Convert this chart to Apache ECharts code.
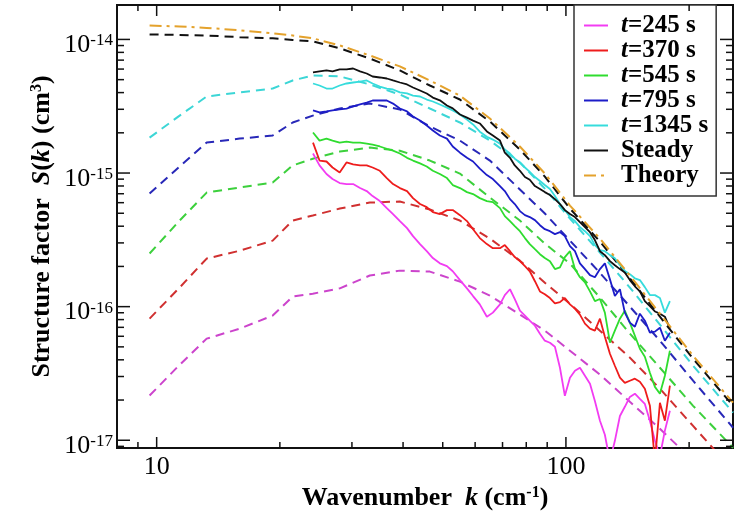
<!DOCTYPE html>
<html>
<head>
<meta charset="utf-8">
<script src="https://cdn.jsdelivr.net/npm/echarts@6/dist/echarts.min.js"></script>
<style>
  html, body { margin: 0; padding: 0; background: #fff; }
  #chart { width: 741px; height: 514px; }
</style>
</head>
<body>
<div id="chart"></div>
<script>
// wavenumber of the model (dashed) curves, cm^-1
const kModel = [9.61, 11.38, 13.25, 15.95, 19.21, 21.5, 24.07, 28.03, 33.17, 39.28, 46.51, 55.06, 65.2, 77.18, 88.83, 102.3, 121.1, 143.3, 169.7, 204.5, 256.1];

const theory = [1.27e-14, 1.25e-14, 1.22e-14, 1.17e-14, 1.11e-14, 1.07e-14, 1.02e-14, 9.01e-15, 7.59e-15, 6.28e-15, 4.93e-15, 3.80e-15, 2.56e-15, 1.58e-15, 9.91e-16, 5.71e-16, 3.23e-16, 1.71e-16, 8.86e-17, 4.29e-17, 1.91e-17];
const steadyModel = [1.09e-14, 1.08e-14, 1.07e-14, 1.04e-14, 1.02e-14, 9.91e-15, 9.66e-15, 8.57e-15, 7.20e-15, 5.86e-15, 4.52e-15, 3.55e-15, 2.43e-15, 1.50e-15, 9.41e-16, 5.42e-16, 3.07e-16, 1.63e-16, 8.41e-17, 4.08e-17, 1.81e-17];
const model1345 = [1.84e-15, 2.69e-15, 3.74e-15, 4.01e-15, 4.29e-15, 4.93e-15, 5.38e-15, 5.29e-15, 4.60e-15, 3.87e-15, 3.04e-15, 2.39e-15, 1.75e-15, 1.20e-15, 7.65e-16, 4.56e-16, 2.54e-16, 1.39e-16, 7.33e-17, 3.61e-17, 1.61e-17];
const model795 = [7.02e-16, 1.12e-15, 1.69e-15, 1.81e-15, 1.91e-15, 2.39e-15, 2.69e-15, 3.04e-15, 3.32e-15, 2.99e-15, 2.23e-15, 1.75e-15, 1.24e-15, 7.53e-16, 4.98e-16, 3.12e-16, 1.79e-16, 1.00e-16, 5.56e-17, 2.79e-17, 1.24e-17];
const model545 = [2.50e-16, 4.41e-16, 7.14e-16, 7.79e-16, 8.49e-16, 1.14e-15, 1.28e-15, 1.45e-15, 1.55e-15, 1.47e-15, 1.24e-15, 9.91e-16, 6.56e-16, 4.41e-16, 2.96e-16, 2.10e-16, 1.17e-16, 6.28e-17, 3.49e-17, 1.81e-17, 8.79e-18];
const model370 = [8.14e-17, 1.39e-16, 2.29e-16, 2.62e-16, 3.12e-16, 4.41e-16, 4.81e-16, 5.42e-16, 6.01e-16, 6.12e-16, 5.33e-16, 4.41e-16, 3.23e-16, 2.21e-16, 1.51e-16, 1.05e-16, 6.61e-17, 4.15e-17, 2.43e-17, 1.28e-17, 5.91e-18];
const model245 = [2.16e-17, 3.67e-17, 5.76e-17, 6.84e-17, 8.57e-17, 1.19e-16, 1.25e-16, 1.37e-16, 1.71e-16, 1.86e-16, 1.83e-16, 1.54e-16, 1.21e-16, 8.72e-17, 6.61e-17, 4.68e-17, 3.10e-17, 1.94e-17, 1.22e-17, 7.02e-18, 3.23e-18];

// wavenumber of the measured (solid) curves, cm^-1
const kData = [24.1, 25.0, 26.0, 26.9, 28.0, 29.1, 30.2, 31.4, 32.6, 33.7, 35.1, 36.5, 37.8, 39.3, 40.9, 42.3, 44.0, 45.7, 47.3, 49.2, 51.2, 52.9, 55.1, 57.3, 59.3, 61.6, 64.1, 66.3, 69.0, 70.9, 73.0, 75.0, 77.2, 79.4, 81.6, 84.0, 86.4, 88.8, 91.4, 94.0, 96.7, 99.4, 102.3, 105.2, 108.2, 111.3, 114.5, 117.7, 121.1, 124.5, 128.1, 131.7, 135.5, 139.3, 143.3, 147.4, 151.6, 155.9, 160.4, 165.0, 169.7, 174.5, 179.5];

const steady = [5.66e-15, 5.76e-15, 5.86e-15, 5.76e-15, 5.96e-15, 5.96e-15, 6.06e-15, 5.76e-15, 5.56e-15, 5.28e-15, 5.19e-15, 5.10e-15, 4.93e-15, 4.76e-15, 4.60e-15, 4.37e-15, 4.15e-15, 3.94e-15, 3.67e-15, 3.50e-15, 3.20e-15, 3.05e-15, 2.74e-15, 2.60e-15, 2.47e-15, 2.35e-15, 2.05e-15, 1.91e-15, 1.75e-15, 1.42e-15, 1.30e-15, 1.14e-15, 1.04e-15, 9.33e-16, 8.90e-16, 7.99e-16, 7.60e-16, 7.20e-16, 6.84e-16, 6.38e-16, 5.86e-16, 5.28e-16, 4.93e-16, 4.68e-16, 4.29e-16, 3.94e-16, 3.61e-16, 3.15e-16, 2.60e-16, 2.43e-16, 2.19e-16, 2.04e-16, 1.91e-16, 1.80e-16, 1.58e-16, 1.42e-16, 1.30e-16, 1.10e-16, 1.01e-16, 9.20e-17, 8.86e-17, 8.41e-17, 6.84e-17];
const t1345 = [4.68e-15, 4.52e-15, 4.29e-15, 4.29e-15, 4.52e-15, 4.68e-15, 4.76e-15, 4.84e-15, 4.93e-15, 4.68e-15, 4.44e-15, 4.29e-15, 4.22e-15, 4.01e-15, 3.94e-15, 3.80e-15, 3.74e-15, 3.55e-15, 3.43e-15, 3.26e-15, 3.09e-15, 2.94e-15, 2.74e-15, 2.51e-15, 2.31e-15, 2.04e-15, 1.87e-15, 1.78e-15, 1.66e-15, 1.50e-15, 1.40e-15, 1.28e-15, 1.20e-15, 1.10e-15, 1.02e-15, 9.33e-16, 8.71e-16, 8.13e-16, 7.59e-16, 6.72e-16, 5.86e-16, 5.28e-16, 4.68e-16, 4.37e-16, 3.94e-16, 3.67e-16, 3.37e-16, 2.89e-16, 2.65e-16, 2.60e-16, 2.43e-16, 2.30e-16, 2.04e-16, 1.85e-16, 1.75e-16, 1.63e-16, 1.58e-16, 1.40e-16, 1.22e-16, 1.22e-16, 1.16e-16, 9.02e-17, 1.10e-16];
const t795 = [2.94e-15, 2.84e-15, 2.89e-15, 2.94e-15, 2.99e-15, 3.04e-15, 3.15e-15, 3.26e-15, 3.37e-15, 3.49e-15, 3.49e-15, 3.49e-15, 3.31e-15, 3.04e-15, 2.89e-15, 2.65e-15, 2.47e-15, 2.27e-15, 2.08e-15, 1.91e-15, 1.81e-15, 1.58e-15, 1.42e-15, 1.30e-15, 1.22e-15, 1.08e-15, 9.66e-16, 9.02e-16, 7.99e-16, 7.33e-16, 6.38e-16, 5.86e-16, 5.19e-16, 4.84e-16, 4.68e-16, 4.44e-16, 4.07e-16, 3.80e-16, 3.67e-16, 3.49e-16, 3.61e-16, 3.37e-16, 2.84e-16, 2.60e-16, 2.11e-16, 1.91e-16, 1.72e-16, 1.66e-16, 1.91e-16, 2.11e-16, 1.60e-16, 1.20e-16, 1.35e-16, 9.02e-17, 7.59e-17, 7.08e-17, 8.86e-17, 7.85e-17, 6.38e-17, 6.50e-17, 6.96e-17, 5.56e-17, 6.38e-17];
const t545 = [2.01e-15, 1.75e-15, 1.81e-15, 1.75e-15, 1.69e-15, 1.72e-15, 1.69e-15, 1.69e-15, 1.66e-15, 1.63e-15, 1.58e-15, 1.52e-15, 1.47e-15, 1.40e-15, 1.30e-15, 1.24e-15, 1.18e-15, 1.12e-15, 1.04e-15, 9.83e-16, 9.17e-16, 8.13e-16, 7.72e-16, 7.20e-16, 6.96e-16, 6.49e-16, 6.17e-16, 6.06e-16, 5.46e-16, 4.76e-16, 4.37e-16, 4.01e-16, 3.67e-16, 3.26e-16, 2.94e-16, 2.69e-16, 2.47e-16, 2.31e-16, 2.19e-16, 1.91e-16, 1.97e-16, 2.35e-16, 2.60e-16, 1.91e-16, 1.66e-16, 1.52e-16, 1.30e-16, 1.10e-16, 1.14e-16, 9.02e-17, 5.37e-17, 6.61e-17, 8.13e-17, 9.33e-17, 7.59e-17, 6.06e-17, 4.84e-17, 4.22e-17, 3.20e-17, 2.51e-17, 2.23e-17, 3.04e-17, 4.68e-17];
const t370 = [1.69e-15, 1.24e-15, 1.22e-15, 1.10e-15, 1.01e-15, 1.20e-15, 1.16e-15, 1.14e-15, 1.14e-15, 1.10e-15, 1.04e-15, 9.17e-16, 8.27e-16, 7.72e-16, 7.33e-16, 6.49e-16, 5.86e-16, 5.56e-16, 5.10e-16, 4.93e-16, 5.28e-16, 5.28e-16, 4.84e-16, 4.37e-16, 3.80e-16, 3.26e-16, 2.94e-16, 2.74e-16, 2.74e-16, 2.89e-16, 2.60e-16, 2.35e-16, 2.19e-16, 2.01e-16, 1.84e-16, 1.55e-16, 1.30e-16, 1.24e-16, 1.16e-16, 1.06e-16, 1.08e-16, 1.16e-16, 1.04e-16, 9.66e-17, 8.71e-17, 7.46e-17, 6.84e-17, 6.61e-17, 8.13e-17, 5.96e-17, 4.44e-17, 3.61e-17, 2.94e-17, 2.69e-17, 2.79e-17, 2.89e-17, 2.74e-17, 2.43e-17, 1.81e-17, 6.96e-18, 1.91e-17, 1.40e-17, 2.56e-17];
const t245 = [1.40e-15, 1.14e-15, 9.83e-16, 9.02e-16, 8.41e-16, 8.27e-16, 8.27e-16, 7.72e-16, 7.33e-16, 6.72e-16, 6.17e-16, 5.46e-16, 4.93e-16, 4.37e-16, 3.87e-16, 3.37e-16, 2.94e-16, 2.60e-16, 2.31e-16, 2.11e-16, 2.01e-16, 1.84e-16, 1.58e-16, 1.37e-16, 1.20e-16, 1.04e-16, 8.41e-17, 9.02e-17, 1.04e-16, 1.22e-16, 1.35e-16, 1.14e-16, 9.33e-17, 8.56e-17, 7.85e-17, 7.20e-17, 6.27e-17, 5.56e-17, 5.37e-17, 5.01e-17, 3.49e-17, 2.15e-17, 2.94e-17, 3.31e-17, 3.49e-17, 3.04e-17, 2.65e-17, 1.97e-17, 1.40e-17, 1.10e-17, 6.96e-18, 9.90e-18, 1.52e-17, 1.78e-17, 2.11e-17, 2.23e-17, 2.04e-17, 1.87e-17, 1.40e-17, 9.90e-18, 7.59e-18, 1.18e-17, 1.66e-17];

// tick marks
const xMajorTicks = [10, 100];
const xMinorTicks = [9, 20, 30, 40, 50, 60, 70, 80, 90, 200];
const yMajorTicks = [1e-17, 1e-16, 1e-15, 1e-14];
const yMinorTicks = [9e-18,
  2e-17, 3e-17, 4e-17, 5e-17, 6e-17, 7e-17, 8e-17, 9e-17,
  2e-16, 3e-16, 4e-16, 5e-16, 6e-16, 7e-16, 8e-16, 9e-16,
  2e-15, 3e-15, 4e-15, 5e-15, 6e-15, 7e-15, 8e-15, 9e-15];

const serif = '"Liberation Serif", "Times New Roman", serif';

function pairs(ks, vs) {
  return ks.map((k, i) => [k, vs[i]]);
}

function solid(name, color, vs) {
  return {
    name: name, type: 'line', data: pairs(kData, vs),
    symbol: 'none', showSymbol: false, animation: false, z: 3,
    lineStyle: { color: color, width: 1.8 }, itemStyle: { color: color }
  };
}

function dashed(name, color, vs) {
  return {
    name: name, type: 'line', data: pairs(kModel, vs),
    symbol: 'none', showSymbol: false, animation: false, z: 2,
    lineStyle: { color: color, width: 2, type: [9, 6] }, itemStyle: { color: color }
  };
}

function isPow10(v) {
  const e = Math.log10(v);
  return Math.abs(e - Math.round(e)) < 1e-6;
}

// ticks on all four sides, inward
function xTicks() {
  const data = xMinorTicks.map(v => [v, 1e-16, 0]).concat(xMajorTicks.map(v => [v, 1e-16, 1]));
  return {
    type: 'custom', silent: true, animation: false, z: 5, data: data,
    renderItem(params, api) {
      const cs = params.coordSys;
      const x = api.coord([api.value(0), api.value(1)])[0];
      const len = api.value(2) ? 11 : 6;
      const b = cs.y + cs.height;
      const st = { stroke: '#111', lineWidth: 1.5 };
      return { type: 'group', children: [
        { type: 'line', shape: { x1: x, y1: b, x2: x, y2: b - len }, style: st },
        { type: 'line', shape: { x1: x, y1: cs.y, x2: x, y2: cs.y + len }, style: st }
      ] };
    }
  };
}

function yTicks() {
  const data = yMinorTicks.map(v => [20, v, 0]).concat(yMajorTicks.map(v => [20, v, 1]));
  return {
    type: 'custom', silent: true, animation: false, z: 5, data: data,
    renderItem(params, api) {
      const cs = params.coordSys;
      const y = api.coord([api.value(0), api.value(1)])[1];
      const len = api.value(2) ? 13 : 7;
      const r = cs.x + cs.width;
      const st = { stroke: '#111', lineWidth: 1.5 };
      return { type: 'group', children: [
        { type: 'line', shape: { x1: cs.x, y1: y, x2: cs.x + len, y2: y }, style: st },
        { type: 'line', shape: { x1: r, y1: y, x2: r - len, y2: y }, style: st }
      ] };
    }
  };
}

const nameRich = {
  b: { fontFamily: serif, fontWeight: 'bold', fontSize: 26, color: '#000', lineHeight: 26, verticalAlign: 'bottom' },
  bi: { fontFamily: serif, fontWeight: 'bold', fontStyle: 'italic', fontSize: 26, color: '#000', lineHeight: 26, verticalAlign: 'bottom' },
  sup: { fontFamily: serif, fontWeight: 'bold', fontSize: 16, color: '#000', lineHeight: 16, verticalAlign: 'top', padding: [0, 0, 16, 0] }
};

const chart = echarts.init(document.getElementById('chart'));

chart.setOption({
  backgroundColor: '#fff',
  animation: false,
  grid: {
    left: 117, right: 8, top: 5, bottom: 66, outerBoundsMode: 'none',
    show: true, borderColor: '#111', borderWidth: 2
  },
  xAxis: {
    type: 'log', min: 8, max: 256,
    axisLine: { show: false }, axisTick: { show: false }, splitLine: { show: false },
    axisLabel: {
      margin: 6, fontFamily: serif, fontSize: 26, color: '#000',
      formatter: v => isPow10(v) ? String(Math.round(v)) : ''
    },
    name: '{b|Wavenumber  }{bi|k}{b| (cm}{sup|-1}{b|)}',
    nameLocation: 'middle', nameGap: 36,
    nameTextStyle: { rich: nameRich }
  },
  yAxis: {
    type: 'log', min: 8.75e-18, max: 1.81e-14,
    axisLine: { show: false }, axisTick: { show: false }, splitLine: { show: false },
    axisLabel: {
      margin: 4, padding: [12, 0, 0, 0],
      formatter: v => isPow10(v) ? '{b|10}{s|' + Math.round(Math.log10(v)) + '}' : '',
      rich: {
        b: { fontFamily: serif, fontSize: 26, color: '#000', lineHeight: 26, verticalAlign: 'bottom' },
        s: { fontFamily: serif, fontSize: 17, color: '#000', lineHeight: 16, verticalAlign: 'top', padding: [0, 0, 18, 0] }
      }
    },
    name: '{b|Structure factor  }{bi|S}{b|(}{bi|k}{b|) (cm}{sup|3}{b|)}',
    nameLocation: 'middle', nameGap: 62, nameMoveOverlap: false,
    nameTextStyle: { rich: nameRich }
  },
  legend: {
    orient: 'vertical', left: 574, top: 5,
    data: ['t=245 s', 't=370 s', 't=545 s', 't=795 s', 't=1345 s', 'Steady', 'Theory'],
    backgroundColor: '#fff', borderColor: '#333', borderWidth: 1.5, borderRadius: 0,
    padding: [8, 8, 8, 9], itemWidth: 24, itemHeight: 12, itemGap: 0,
    itemStyle: { opacity: 0 },
    selectedMode: false,
    formatter: n => n.startsWith('t=') ? '{i|t}{b|' + n.slice(1) + '}' : '{b|' + n + '}',
    textStyle: {
      padding: [0, 0, 0, 8],
      rich: {
        i: { fontFamily: serif, fontWeight: 'bold', fontStyle: 'italic', fontSize: 25, color: '#000', lineHeight: 22 },
        b: { fontFamily: serif, fontWeight: 'bold', fontSize: 25, color: '#000', lineHeight: 22 }
      }
    }
  },
  series: [
    dashed('t=245 s model', '#cc44cc', model245),
    dashed('t=370 s model', '#d03030', model370),
    dashed('t=545 s model', '#3cd03c', model545),
    dashed('t=795 s model', '#2828b8', model795),
    dashed('t=1345 s model', '#3cd6d6', model1345),
    dashed('Steady model', '#111111', steadyModel),
    solid('t=245 s', '#f23cf2', t245),
    solid('t=370 s', '#ee1c1c', t370),
    solid('t=545 s', '#2fdc2f', t545),
    solid('t=795 s', '#1c1cc8', t795),
    solid('t=1345 s', '#36dcdc', t1345),
    solid('Steady', '#111111', steady),
    {
      name: 'Theory', type: 'line', data: pairs(kModel, theory),
      symbol: 'none', showSymbol: false, animation: false, z: 4,
      lineStyle: { color: '#e4a22c', width: 2, type: [12, 5, 3, 5] }, itemStyle: { color: '#e4a22c' }
    },
    xTicks(),
    yTicks()
  ]
});
</script>
</body>
</html>
